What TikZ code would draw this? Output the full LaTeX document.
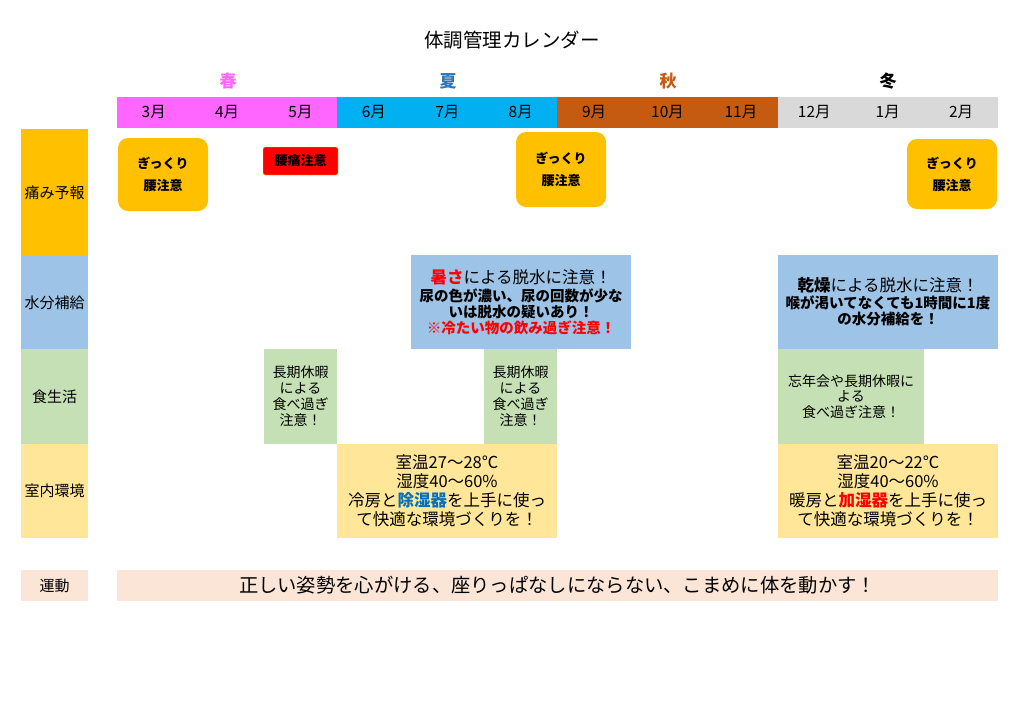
\documentclass[tikz,border=0pt]{standalone}
\usepackage{fontspec}
\setmainfont{Noto Sans CJK JP}
\definecolor{haru}{HTML}{FF66FF}
\definecolor{natsu}{HTML}{00B0F0}
\definecolor{natsuji}{HTML}{2E75B6}
\definecolor{aki}{HTML}{C55A11}
\definecolor{fuyu}{HTML}{D9D9D9}
\definecolor{itami}{HTML}{FFC000}
\definecolor{mizu}{HTML}{9DC3E6}
\definecolor{shoku}{HTML}{C5E0B4}
\definecolor{shitsu}{HTML}{FFE699}
\definecolor{undou}{HTML}{FBE5D6}
\definecolor{ao}{HTML}{0070C0}
\newcommand{\fs}[2]{\fontsize{#1pt}{#2pt}\selectfont}
\begin{document}
\begin{tikzpicture}[x=1pt,y=-1pt,
  box/.style={inner sep=0pt,outer sep=0pt,align=center},
  season/.style={box,minimum height=31pt,font=\fs{15.5}{17}},
  rowlab/.style={box,minimum width=67pt,font=\fs{15}{17}},
  gikkuri/.style={box,fill=itami,rounded corners=10pt,minimum width=90pt,font=\fs{13}{22}\bfseries}]
\useasboundingbox (0,0) rectangle (1024,724);

\node[font=\fs{19.5}{21}] (title) at (512,40) {体調管理カレンダー};

\node[font=\fs{17}{19}\bfseries,text=haru] (haru) at (228,81) {春};
\node[font=\fs{17}{19}\bfseries,text=natsuji] (natsu) at (448,81) {夏};
\node[font=\fs{17}{19}\bfseries,text=aki] (aki) at (668,81) {秋};
\node[font=\fs{17}{19}\bfseries] (fuyu) at (888,81) {冬};

\node[season,fill=haru,minimum width=220.4pt] (bharu) at (227.2,112.5) {};
\node[season,fill=natsu,minimum width=220.4pt] (bnatsu) at (447.4,112.5) {};
\node[season,fill=aki,minimum width=220.4pt] (baki) at (667.6,112.5) {};
\node[season,fill=fuyu,minimum width=220.4pt] (bfuyu) at (887.8,112.5) {};

\node[season] (m3) at (153.7,112.5) {3月};
\node[season] (m4) at (227.1,112.5) {4月};
\node[season] (m5) at (300.5,112.5) {5月};
\node[season] (m6) at (373.9,112.5) {6月};
\node[season] (m7) at (447.3,112.5) {7月};
\node[season] (m8) at (520.7,112.5) {8月};
\node[season] (m9) at (594.1,112.5) {9月};
\node[season] (m10) at (667.5,112.5) {10月};
\node[season] (m11) at (740.9,112.5) {11月};
\node[season] (m12) at (814.3,112.5) {12月};
\node[season] (m1) at (887.7,112.5) {1月};
\node[season] (m2) at (961.1,112.5) {2月};

\node[rowlab,fill=itami,minimum height=127pt] (litami) at (54.5,192.5) {痛み予報};
\node[rowlab,fill=mizu,minimum height=93pt] (lmizu) at (54.5,302.5) {水分補給};
\node[rowlab,fill=shoku,minimum height=95pt] (lshoku) at (54.5,396.5) {食生活};
\node[rowlab,fill=shitsu,minimum height=94pt] (lshitsu) at (54.5,491) {室内環境};
\node[rowlab,fill=undou,minimum height=31pt] (lundou) at (54.5,585.5) {運動};

% 痛み予報
\node[gikkuri,minimum height=73pt] (p1) at (163,174.5) {ぎっくり\\腰注意};
\node[box,fill=red,draw=yellow,rounded corners=2pt,minimum width=75pt,minimum height=28pt,
  font=\fs{13}{14}\bfseries] (yotsu) at (300.5,161) {腰痛注意};
\node[gikkuri,minimum height=75pt] (p2) at (561,169.5) {ぎっくり\\腰注意};
\node[gikkuri,minimum height=70pt] (p3) at (952,174) {ぎっくり\\腰注意};

% 水分補給
\node[box,fill=mizu,minimum width=220pt,minimum height=94pt,font=\fs{14.5}{16}] (w1) at (521,302)
  {{\fs{16.5}{18}{\color{red}\bfseries 暑さ}による脱水に注意！}\\[2pt]
   \bfseries 尿の色が濃い、尿の回数が少な\\ \bfseries いは脱水の疑いあり！\\
   \color{red}\bfseries ※冷たい物の飲み過ぎ注意！};
\node[box,fill=mizu,minimum width=220pt,minimum height=94pt,font=\fs{14.5}{16}] (w2) at (888,302)
  {{\fs{16.5}{18}{\bfseries 乾燥}による脱水に注意！}\\[1pt]
   \bfseries 喉が渇いてなくても1時間に1度\\ \bfseries の水分補給を！};

% 食生活
\node[box,fill=shoku,minimum width=73pt,minimum height=95pt,font=\fs{14}{16}] (s1) at (300.5,396.5)
  {長期休暇\\による\\食べ過ぎ\\注意！};
\node[box,fill=shoku,minimum width=73pt,minimum height=95pt,font=\fs{14}{16}] (s2) at (520.5,396.5)
  {長期休暇\\による\\食べ過ぎ\\注意！};
\node[box,fill=shoku,minimum width=146pt,minimum height=95pt,font=\fs{14}{15.5}] (s3) at (851,396.5)
  {忘年会や長期休暇に\\よる\\食べ過ぎ注意！};

% 室内環境
\node[box,fill=shitsu,minimum width=220pt,minimum height=94pt,font=\fs{16.5}{19}] (k1) at (447,491)
  {室温27～28℃\\湿度40～60\%\\冷房と{\color{ao}\bfseries 除湿器}を上手に使っ\\て快適な環境づくりを！};
\node[box,fill=shitsu,minimum width=220pt,minimum height=94pt,font=\fs{16.5}{19}] (k2) at (888,491)
  {室温20～22℃\\湿度40～60\%\\暖房と{\color{red}\bfseries 加湿器}を上手に使っ\\て快適な環境づくりを！};

% 運動
\node[box,fill=undou,minimum width=881pt,minimum height=31pt,font=\fs{19.3}{21}] (undou) at (557.5,585.5)
  {正しい姿勢を心がける、座りっぱなしにならない、こまめに体を動かす！};
\end{tikzpicture}
\end{document}
